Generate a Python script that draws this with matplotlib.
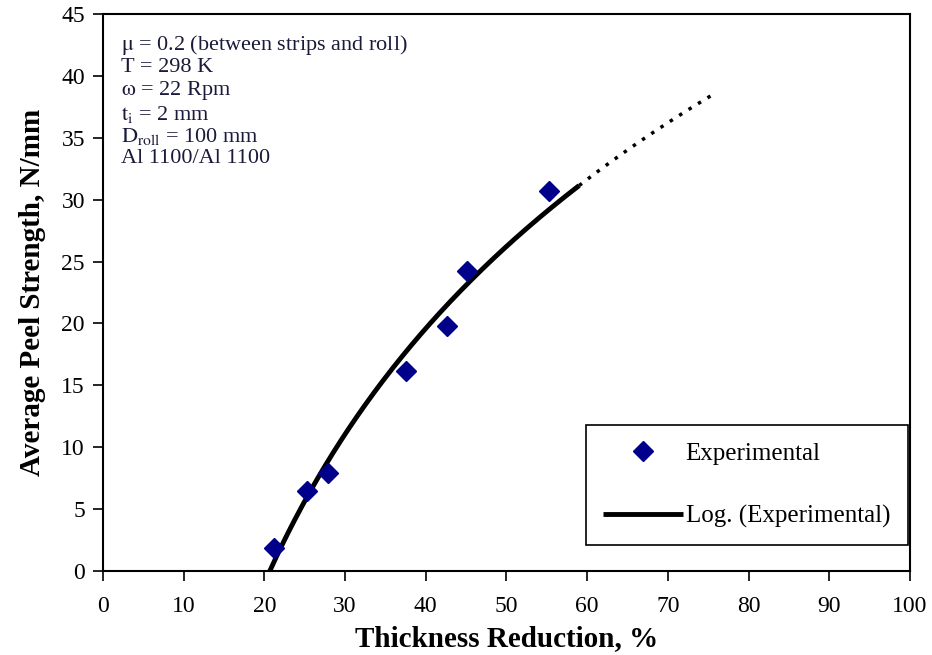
import numpy as np
import matplotlib.pyplot as plt

plt.rcParams['font.family'] = ['Liberation Serif', 'DejaVu Serif']
plt.rcParams['mathtext.fontset'] = 'stix'

reduction = [21.2, 25.3, 27.9, 37.5, 42.6, 45.1, 55.3]
peel = [1.9, 6.5, 7.9, 16.2, 19.8, 24.2, 30.7]
xticks = np.arange(0, 101, 10)
yticks = np.arange(0, 46, 5)

x = np.asarray(reduction)
y = np.asarray(peel)
# logarithmic trendline like Excel
a, b = np.polyfit(np.log(x), y, 1)
x0 = np.exp(-b / a)

fig = plt.figure(figsize=(9.32, 6.55), dpi=100)
ax = fig.add_axes([0.1105, 0.1282, 0.8659, 0.8504])

xs = np.linspace(x0, 59.0, 200)
ax.plot(xs, a * np.log(xs) + b, color='black', lw=3.5, solid_capstyle='butt',
        label='Log. (Experimental)', zorder=3)
xd = np.linspace(59.0, 75.5, 50)
ax.plot(xd, a * np.log(xd) + b, color='black', lw=2.5, ls=(0, (1, 2.2)), zorder=3)
ax.plot(x, y, ls='none', marker='D', ms=10, mfc='#00008B', mec='#00008B',
        label='Experimental', zorder=4)

ax.set_xlim(0, 100)
ax.set_ylim(0, 45)
ax.set_xticks(xticks)
ax.set_yticks(yticks)
ax.tick_params(direction='out', length=7, width=1.2, labelsize=17, colors='black', pad=6)
ax.tick_params(axis='x', pad=11)
for s in ax.spines.values():
    s.set_linewidth(1.5)

ax.set_xlabel('Thickness Reduction, %', fontsize=21, fontweight='bold', labelpad=6)
ax.set_ylabel('Average Peel Strength, N/mm', fontsize=21, fontweight='bold', labelpad=11)

info = ('$\\mathrm{\\mu}$ = 0.2 (between strips and roll)\n'
        'T = 298 K\n'
        '$\\mathrm{\\omega}$ = 22 Rpm\n'
        '$\\mathrm{t_i}$ = 2 mm\n'
        '$\\mathrm{D_{roll}}$ = 100 mm\n'
        'Al 1100/Al 1100')
ax.text(0.022, 0.966, info, transform=ax.transAxes, fontsize=16, va='top',
        ha='left', linespacing=1.1, color='#1a1a3a')

handles, labels = ax.get_legend_handles_labels()
leg = ax.legend(handles[::-1], labels[::-1], loc='lower right',
                bbox_to_anchor=(0.997, 0.046), fontsize=18, frameon=True,
                fancybox=False, edgecolor='black', framealpha=1,
                labelspacing=1.6, borderpad=0.7, handlelength=3.2,
                handletextpad=0.1, borderaxespad=0)
leg.get_frame().set_linewidth(1.2)

fig.savefig('out.png', dpi=100)
